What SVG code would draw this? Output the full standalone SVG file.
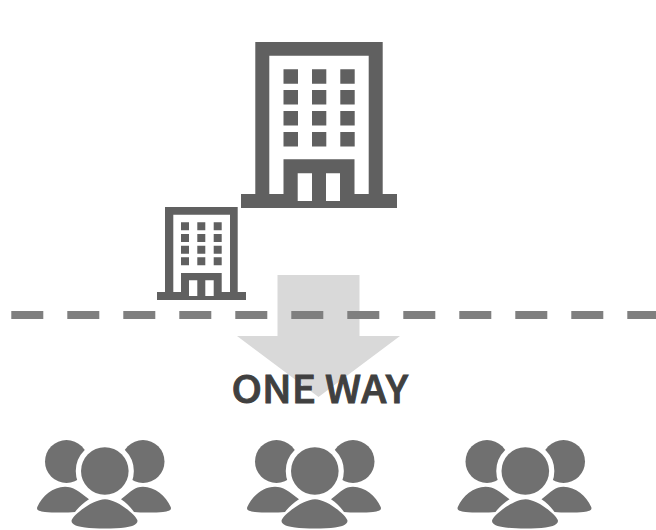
<svg xmlns="http://www.w3.org/2000/svg" width="656" height="530" viewBox="0 0 656 530">
<style>
.b{fill:#606060}.p{fill:#707070}.ring{fill:#707070;stroke:#fff;stroke-width:10.500;paint-order:stroke}
text{font-family:"Noto Sans CJK JP","Noto Sans",sans-serif;font-weight:500;font-size:38px;fill:#404040;stroke:#404040;stroke-width:.9}
</style>
<defs>
<g id="people">
<circle class="p" cx="66.500" cy="461.500" r="21.500"/>
<circle class="p" cx="143" cy="461.500" r="21.500"/>
<path class="p" d="M37.300 507C42 496 53 486.700 65 486.700C73 486.700 79 491 89 499.300C83 503 78 508 75 512C68 512.800 52 512.800 45 512C39 511.300 36 510 37.300 507Z"/>
<path class="p" d="M170.700 507C166 496 155 486.700 143 486.700C135 486.700 131 491 121 499.300C127 503 131 508 134 512C141 512.800 156 512.800 163 512C169 511.300 172 510 170.700 507Z"/>
<circle class="ring" cx="104.800" cy="471" r="23.800"/>
<path class="p" d="M71.700 520C75 513 94 499.300 105 499.300C116 499.300 134 513 137.300 520C138.500 524 133 526.500 125 527.500C115 528.800 95 528.800 85 527.500C76 526.500 70.500 524 71.700 520Z"/>
</g>
</defs>
<g id="arrow"><path fill="#d9d9d9" d="M277.500 275H359.500V336H400L318.500 397L237 336H277.500Z"/></g>
<g id="connectors"><path fill="none" stroke="#7f7f7f" stroke-width="8" stroke-dasharray="32 24" d="M11.300 315H656"/></g>
<g id="building-large">
<path class="b" fill-rule="evenodd" d="M255.300 42H382.700V194H397V208H241V194H255.300ZM269.300 55.700V194H283.500V159.300H354.500V194H368.700V55.700ZM297.700 173.300V201H312V173.300ZM326 173.300V201H340V173.300Z"/>
<path class="b" d="M283.500 69.300h14.500v14.400h-14.500zM312 69.300h14.300v14.400h-14.300zM340.300 69.300h14.400v14.400h-14.400zM283.500 90h14.500v14.400h-14.500zM312 90h14.300v14.400h-14.300zM340.300 90h14.400v14.400h-14.400zM283.500 111h14.500v14.400h-14.500zM312 111h14.300v14.400h-14.300zM340.300 111h14.400v14.400h-14.400zM283.500 132h14.500v14.400h-14.500zM312 132h14.300v14.400h-14.300zM340.300 132h14.400v14.400h-14.400z"/>
</g>
<g id="building-small">
<path class="b" fill-rule="evenodd" d="M165 207H237.700V292H246V300H157V292H165ZM173.300 214.700V292H181V273H221.700V292H230V214.700ZM189 280.300V296H197.300V280.300ZM205.300 280.300V296H213.700V280.300Z"/>
<path class="b" d="M181 222.300h8v8h-8zM197.300 222.300h8v8h-8zM213.700 222.300h8v8h-8zM181 234h8v8h-8zM197.300 234h8v8h-8zM213.700 234h8v8h-8zM181 245.700h8v8h-8zM197.300 245.700h8v8h-8zM213.700 245.700h8v8h-8zM181 257.300h8v8h-8zM197.300 257.300h8v8h-8zM213.700 257.300h8v8h-8z"/>
</g>
<g id="label"><text x="231.500" y="402.500" textLength="176.500" lengthAdjust="spacingAndGlyphs">ONE WAY</text></g>
<g id="people-1"><use href="#people"/></g>
<g id="people-2"><use href="#people" x="210"/></g>
<g id="people-3"><use href="#people" x="420.500"/></g>
</svg>
